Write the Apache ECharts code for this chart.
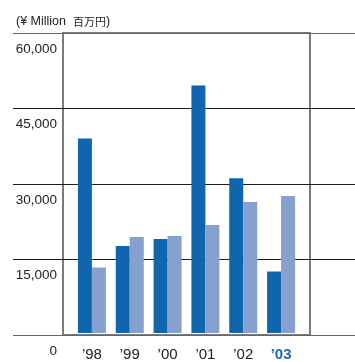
<!DOCTYPE html>
<html><head><meta charset="utf-8">
<script src="https://cdn.jsdelivr.net/npm/echarts@6/dist/echarts.min.js"></script>
<style>html,body{margin:0;padding:0;background:#fff}#c{width:355px;height:362px}</style>
</head><body><div id="c"></div>
<script>
const categories = ['\u201998', '\u201999', '\u201900', '\u201901', '\u201902', '\u201903'];
const seriesDark = [38900, 17400, 18800, 49500, 30950, 12300];
const seriesLight = [13100, 19200, 19400, 21600, 26200, 27400];
const yTicks = [0, 15000, 30000, 45000, 60000];

const FONT = '"Liberation Sans", Arial, sans-serif';
const chart = echarts.init(document.getElementById('c'));
chart.setOption({
  animation: false,
  backgroundColor: '#fff',
  title: {
    text: '(¥ Million  {j|百万円})',
    left: 11, top: 10,
    textStyle: {
      fontFamily: FONT, fontSize: 12.5, fontWeight: 'normal', color: '#222',
      rich: { j: { fontFamily: '"Noto Sans CJK JP", sans-serif', fontSize: 11, color: '#222' } }
    }
  },
  grid: [
    { left: 13, right: 0, top: 33, bottom: 27 },
    { left: 63, right: 45, top: 33, bottom: 27, show: true, borderColor: '#7a7a7a', borderWidth: 2, backgroundColor: 'transparent' },
    { left: 73, right: 55, top: 33, bottom: 27 }
  ],
  xAxis: [
    { gridIndex: 0, type: 'value', show: false },
    { gridIndex: 1, type: 'value', show: false },
    {
      gridIndex: 2, type: 'category', data: categories,
      axisLine: { show: false }, axisTick: { show: false },
      axisLabel: {
        interval: 0, margin: 14, fontFamily: FONT, fontSize: 15, color: '#222',
        formatter: (v, i) => i === categories.length - 1 ? '{b|' + v + '}' : v,
        rich: { b: { fontFamily: FONT, fontSize: 15, fontWeight: 'bold', color: '#1a6bb3' } }
      }
    }
  ],
  yAxis: [
    {
      gridIndex: 0, type: 'value', min: yTicks[0], max: yTicks[yTicks.length - 1], interval: 15000,
      axisLine: { show: false }, axisTick: { show: false },
      splitLine: { show: true, lineStyle: { color: ['#666', '#1e1e1e', '#1e1e1e', '#1e1e1e'], width: 1.2 } },
      axisLabel: {
        inside: true, margin: 44, align: 'right', verticalAlign: 'top', padding: [9, 0, 0, 0],
        fontFamily: FONT, fontSize: 13.5, color: '#222', showMaxLabel: true, showMinLabel: true,
        formatter: v => v.toLocaleString('en-US')
      }
    },
    { gridIndex: 1, type: 'value', show: false, splitLine: { show: false } },
    { gridIndex: 2, type: 'value', min: 0, max: 60000, show: false, splitLine: { show: false } }
  ],
  series: [
    { type: 'bar', xAxisIndex: 2, yAxisIndex: 2, data: seriesDark, barWidth: 14, barGap: '0%', itemStyle: { color: '#1066ae' } },
    { type: 'bar', xAxisIndex: 2, yAxisIndex: 2, data: seriesLight, barWidth: 14, barGap: '0%', itemStyle: { color: '#87a1cf' } }
  ]
});
</script></body></html>
